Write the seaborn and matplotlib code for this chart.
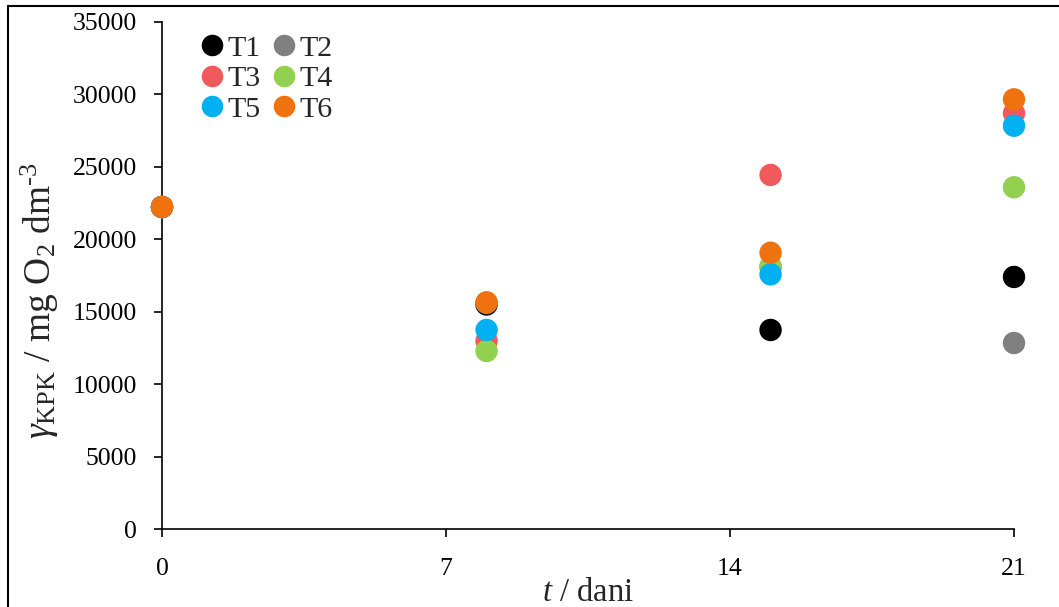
import numpy as np
import pandas as pd
import matplotlib
matplotlib.use("Agg")
import matplotlib.pyplot as plt
import seaborn as sns
from matplotlib.lines import Line2D

days = [0, 8, 15, 21]
series = ["T1", "T2", "T3", "T4", "T5", "T6"]
T1 = [22230, 15500, 13740, 17400]
T2 = [22230, 15600, 18100, 12840]
T3 = [22230, 12980, 24440, 28700]
T4 = [22230, 12290, 18110, 23590]
T5 = [22230, 13740, 17580, 27840]
T6 = [22230, 15650, 19070, 29660]
colors = ["#000000", "#808080", "#F05A5C", "#92D050", "#00B0F0", "#F0720E"]
xticks = [0, 7, 14, 21]
yticks = [0, 5000, 10000, 15000, 20000, 25000, 30000, 35000]

values = [T1, T2, T3, T4, T5, T6]
rows = []
for name, vals in zip(series, values):
    for d, v in zip(days, vals):
        rows.append({"day": d, "value": v, "series": name})
df = pd.DataFrame(rows)

sns.set_theme(style="ticks")
plt.rcParams["font.family"] = ["Liberation Serif", "DejaVu Serif"]
plt.rcParams["mathtext.fontset"] = "custom"
plt.rcParams["mathtext.rm"] = "Liberation Serif"
plt.rcParams["mathtext.it"] = "Liberation Serif:italic"

fig = plt.figure(figsize=(10.59, 6.07), dpi=100)
ax = fig.add_axes([162/1059, 1-529/607, (1014-162)/1059, (529-22)/607])

sns.scatterplot(data=df, x="day", y="value", hue="series", hue_order=series,
                palette=colors, s=260, linewidth=0, ax=ax, legend=False,
                zorder=3, clip_on=False)

ax.set_xlim(0, 21)
ax.set_ylim(0, 35000)
ax.set_xticks(xticks)
ax.set_yticks(yticks)
ax.tick_params(axis="both", labelsize=18.5, direction="out", length=6, width=1.2, colors="black")
ax.tick_params(axis="x", pad=15)
ax.tick_params(axis="y", pad=12)
for sp in ["top", "right"]:
    ax.spines[sp].set_visible(False)
for sp in ["left", "bottom"]:
    ax.spines[sp].set_linewidth(1.2)
    ax.spines[sp].set_color("black")
ax.set_xlabel(r"$\mathit{t}$ / dani", fontsize=23.5, labelpad=-2)
ax.set_ylabel("$\\mathit{\\gamma}_{\\mathrm{KPK}}$ / mg O$_2$ dm$^{\u20103}$",
              fontsize=27)
ax.yaxis.set_label_coords(-0.118, 0.45)

handles = [Line2D([], [], marker="o", linestyle="", markersize=15.5,
                  markerfacecolor=c, markeredgewidth=0) for c in colors]
order = [0, 2, 4, 1, 3, 5]
ax.legend([handles[i] for i in order], [series[i] for i in order], ncol=2,
          frameon=False, fontsize=21.5,
          loc="upper left", bbox_to_anchor=(0.017, 1.01),
          handletextpad=-0.1, columnspacing=0.2, labelspacing=0.12,
          handlelength=1.2, borderaxespad=0.2)

fig.add_artist(Line2D([8/1059, 8/1059], [0, 1-6/607], transform=fig.transFigure,
                      color="black", linewidth=1.5))
fig.add_artist(Line2D([8/1059, 1], [1-6/607, 1-6/607], transform=fig.transFigure,
                      color="black", linewidth=1.5))

fig.savefig("out.png", dpi=100, facecolor="white")
